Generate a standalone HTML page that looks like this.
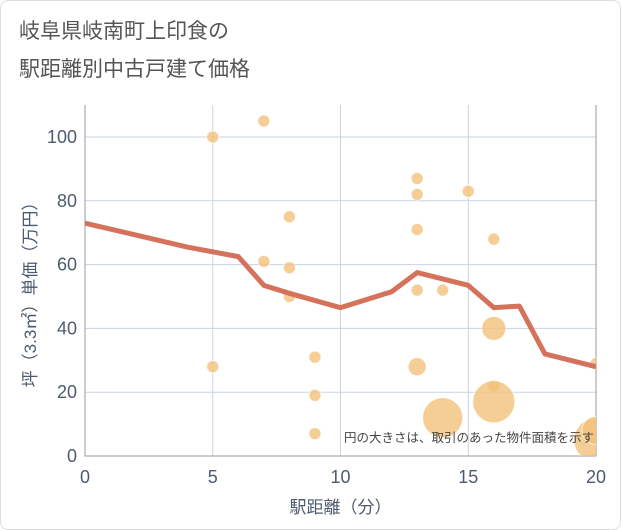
<!DOCTYPE html>
<html><head><meta charset="utf-8"><style>
body{margin:0;background:#fff;font-family:"Liberation Sans","Noto Sans CJK JP",sans-serif;}
#wrap{position:relative;width:619px;height:528px;border:1px solid #ddd;border-radius:8px;background:#fff;overflow:hidden}
.t{position:absolute;left:18px;color:#555;font-size:21px;}
</style></head><body>
<div id="wrap">
<div class="t" style="top:14px">岐阜県岐南町上印食の</div>
<div class="t" style="top:52px">駅距離別中古戸建て価格</div>
<svg id="svg" width="621" height="530" style="position:absolute;left:-1px;top:-1px"></svg>
</div>
<script>
const xTicks=[0,5,10,15,20];
const yTicks=[0,20,40,60,80,100];
const lineX=[0,4,6,7,8,10,12,13,15,16,17,18,20];
const lineY=[73,65.5,62.5,53.5,51,46.5,51.5,57.5,53.5,46.5,47,32,28];
const bubX=[5,7,7,8,8,8,5,9,9,9,13,13,13,13,13,14,14,15,16,16,16,16,20,20,20];
const bubY=[100,105,61,75,59,50,28,31,19,7,87,82,71,52,28,52,12,83,68,40,22,17,29,5,8];
const bubR=[6,6,6,6,6,6,6,6,6,6,6,6,6,6,9,6,20,6,6,12,6,21,6,22,14];
const L=85,R=596,T=105,B=456;
const sx=v=>L+(R-L)*v/20, sy=v=>B-(B-137)*v/100;
const s=document.getElementById('svg');const NS='http://www.w3.org/2000/svg';
function mk(t,a,p){const e=document.createElementNS(NS,t);for(const k in a)e.setAttribute(k,a[k]);(p||s).appendChild(e);return e;}
const defs=mk('defs',{});const cp=mk('clipPath',{id:'c'},defs);mk('rect',{x:L,y:T,width:R-L,height:B-T},cp);
xTicks.forEach(v=>{const g=mk('line',{x1:sx(v),x2:sx(v),y1:T,y2:B,stroke:'#c8d3e3'});


const t=mk('text',{x:sx(v),y:B+27,'text-anchor':'middle','font-size':18,fill:'#4d5b6e'});t.textContent=v;

});
yTicks.forEach(v=>{const g=mk('line',{x1:L,x2:R,y1:sy(v),y2:sy(v),stroke:'#c8d3e3'});


const t=mk('text',{x:L-8,y:sy(v)+6,'text-anchor':'end','font-size':18,fill:'#4d5b6e'});t.textContent=v;

});
const ax=mk('path',{d:`M${L},${T}V${B}H${R}V${T}`,fill:'none',stroke:'#999'});


const bg=mk('g',{'clip-path':'url(#c)'});
bubX.forEach((x,i)=>{const c=mk('circle',{cx:sx(x),cy:sy(bubY[i]),r:bubR[i],fill:'#f3c27a','fill-opacity':0.8,stroke:'#fff','stroke-opacity':0.6},bg);

});
const pl=mk('polyline',{points:lineX.map((x,i)=>sx(x)+','+sy(lineY[i])).join(' '),fill:'none',stroke:'#d5725b','stroke-width':5,'stroke-linejoin':'round'},bg);


const n=mk('text',{x:R-2,y:442,'text-anchor':'end','font-size':12.5,fill:'#444'});n.textContent='円の大きさは、取引のあった物件面積を示す';


const xt=mk('text',{x:(L+R)/2,y:513,'text-anchor':'middle','font-size':17,fill:'#4d5b6e'});xt.textContent='駅距離（分）';


const yt=mk('text',{x:0,y:0,'text-anchor':'middle','font-size':17,fill:'#4d5b6e',transform:`translate(36,${(T+B)/2+10}) rotate(-90)`});yt.textContent='坪（3.3㎡）単価（万円）';


</script>
</body></html>
